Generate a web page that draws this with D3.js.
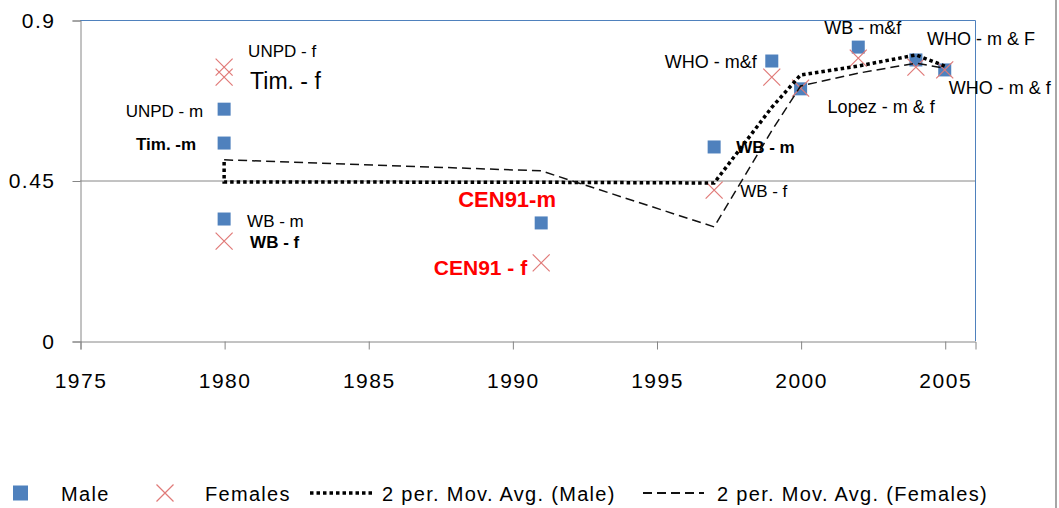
<!DOCTYPE html>
<html>
<head>
<meta charset="utf-8">
<script src="https://cdn.jsdelivr.net/npm/d3@7"></script>
<style>
  body { margin: 0; background: #fff; }
  svg { display: block; font-family: "Liberation Sans", Arial, sans-serif; }
</style>
</head>
<body>
<svg id="chart" width="1059" height="508"></svg>
<script>
// data
const maleYears = [1980, 1980, 1980, 1991, 1997, 1999, 2000, 2002, 2004, 2005];
const maleValues = [0.650, 0.555, 0.342, 0.331, 0.544, 0.785, 0.707, 0.824, 0.788, 0.760];
const femaleYears = [1980, 1980, 1980, 1991, 1997, 1999, 2000, 2002, 2004, 2005];
const femaleValues = [0.768, 0.740, 0.280, 0.219, 0.423, 0.740, 0.709, 0.793, 0.768, 0.760];

// 2 per. moving average trend lines, as drawn
const maleAvgYears = [1980, 1980, 1991, 1997, 1999, 2000, 2002, 2004, 2005];
const maleAvgValues = [0.502, 0.446, 0.445, 0.443, 0.655, 0.746, 0.771, 0.802, 0.771];
const femaleAvgYears = [1980, 1991, 1997, 1999, 2000, 2002, 2004, 2005];
const femaleAvgValues = [0.508, 0.477, 0.320, 0.590, 0.715, 0.751, 0.779, 0.765];

const xTicks = [1975, 1980, 1985, 1990, 1995, 2000, 2005];
const yTicks = [0, 0.45, 0.9];
const yTickLabels = ["0", "0.45", "0.9"];

// point labels: text, series, point index
const labelTexts = ["UNPD - f", "Tim. - f", "UNPD - m", "Tim. -m", "WB - m", "WB - f",
  "CEN91-m", "CEN91 - f", "WB - m", "WB - f", "WHO - m&f", "WB - m&f",
  "WHO - m & F", "WHO - m & f", "Lopez - m & f"];
const labelSeries = ["f", "f", "m", "m", "m", "f", "m", "f", "m", "f", "m", "m", "m", "m", "m"];
const labelIndex = [0, 1, 0, 1, 2, 2, 3, 3, 4, 4, 5, 7, 8, 9, 6];

const legendNames = ["Male", "Females", "2 per. Mov. Avg. (Male)", "2 per. Mov. Avg. (Females)"];

// label layout (offsets from the point, px)
const labelStyle = [
  { dx: 24, dy: -10, anchor: "start", size: 17 },
  { dx: 26, dy: 12, anchor: "start", size: 23 },
  { dx: -21, dy: 8, anchor: "end", size: 17 },
  { dx: -28, dy: 7, anchor: "end", size: 17, bold: true },
  { dx: 23, dy: 8, anchor: "start", size: 17 },
  { dx: 26, dy: 7, anchor: "start", size: 17, bold: true },
  { dx: -83, dy: -16, anchor: "start", size: 22, bold: true, color: "#ff0000" },
  { dx: -14, dy: 12, anchor: "end", size: 21, bold: true, color: "#ff0000" },
  { dx: 22, dy: 6, anchor: "start", size: 17, bold: true },
  { dx: 26, dy: 7, anchor: "start", size: 17 },
  { dx: -15, dy: 7, anchor: "end", size: 18 },
  { dx: -34, dy: -13, anchor: "start", size: 18 },
  { dx: 11, dy: -15, anchor: "start", size: 18 },
  { dx: 4, dy: 24, anchor: "start", size: 18 },
  { dx: 27, dy: 24, anchor: "start", size: 18 }
];

const blue = "#4f81bd";
const red = "#e07a78";
const axisGray = "#868686";

const svg = d3.select("#chart");
const plotLeft = 80, plotRight = 975, plotTop = 20, plotBottom = 341;

const x = d3.scaleLinear().domain([1975, 2006.05]).range([plotLeft, plotRight]);
const y = d3.scaleLinear().domain([0, 0.9]).range([plotBottom, plotTop]);

// outer chart border on the right
svg.append("line")
  .attr("x1", 1056).attr("x2", 1056).attr("y1", 0).attr("y2", 508)
  .attr("stroke", "#a6a6a6").attr("stroke-width", 2);

// gridline
svg.append("line")
  .attr("x1", plotLeft).attr("x2", plotRight)
  .attr("y1", y(0.45) + 0.5).attr("y2", y(0.45) + 0.5)
  .attr("stroke", axisGray).attr("stroke-width", 1);

// plot area border (top, right)
svg.append("path")
  .attr("d", `M${plotLeft},${plotTop + 0.5}H${plotRight + 0.5}V${plotBottom}`)
  .attr("fill", "none").attr("stroke", blue).attr("stroke-width", 1);

// axes
const yAxis = svg.append("g")
  .attr("transform", `translate(${plotLeft + 0.5},0.5)`)
  .call(d3.axisLeft(y).tickValues(yTicks).tickSize(8).tickPadding(17)
    .tickFormat((d, i) => yTickLabels[i]));
const xAxis = svg.append("g")
  .attr("transform", `translate(0.5,${plotBottom + 0.5})`)
  .call(d3.axisBottom(x).tickValues(xTicks).tickSize(8).tickPadding(24)
    .tickFormat(d3.format("d")));

[yAxis, xAxis].forEach(g => {
  g.select(".domain").attr("stroke", axisGray);
  g.selectAll(".tick line").attr("stroke", axisGray);
  g.selectAll(".tick text")
    .attr("fill", "#000")
    .style("font-size", "21px")
    .style("letter-spacing", "1.5px")
    .style("font-family", "'Liberation Sans', Arial, sans-serif");
});

const male = maleYears.map((d, i) => ({ year: d, value: maleValues[i] }));
const female = femaleYears.map((d, i) => ({ year: d, value: femaleValues[i] }));

// male squares
svg.append("g").selectAll("rect")
  .data(male)
  .enter()
  .append("rect")
  .attr("x", d => x(d.year) - 6.5)
  .attr("y", d => y(d.value) - 6.5)
  .attr("width", 13)
  .attr("height", 13)
  .attr("fill", blue);

// female crosses
const cross = s => `M${-s},${-s}L${s},${s}M${-s},${s}L${s},${-s}`;
svg.append("g").selectAll("path")
  .data(female)
  .enter()
  .append("path")
  .attr("transform", d => `translate(${x(d.year)},${y(d.value)})`)
  .attr("d", cross(8.5))
  .attr("fill", "none")
  .attr("stroke", red)
  .attr("stroke-width", 1.2);

// moving averages
const line = d3.line().x(d => x(d[0])).y(d => y(d[1]));
svg.append("path")
  .datum(maleAvgYears.map((d, i) => [d, maleAvgValues[i]]))
  .attr("d", line)
  .attr("fill", "none")
  .attr("stroke", "#000")
  .attr("stroke-width", 3.5)
  .attr("stroke-dasharray", "3.5,3");
svg.append("path")
  .datum(femaleAvgYears.map((d, i) => [d, femaleAvgValues[i]]))
  .attr("d", line)
  .attr("fill", "none")
  .attr("stroke", "#111")
  .attr("stroke-width", 1.5)
  .attr("stroke-dasharray", "9,5");

// labels
svg.append("g").selectAll("text")
  .data(labelTexts)
  .enter()
  .append("text")
  .attr("x", (d, i) => {
    const p = labelSeries[i] === "m" ? male[labelIndex[i]] : female[labelIndex[i]];
    return x(p.year) + labelStyle[i].dx;
  })
  .attr("y", (d, i) => {
    const p = labelSeries[i] === "m" ? male[labelIndex[i]] : female[labelIndex[i]];
    return y(p.value) + labelStyle[i].dy;
  })
  .attr("text-anchor", (d, i) => labelStyle[i].anchor)
  .style("font-size", (d, i) => labelStyle[i].size + "px")
  .style("font-weight", (d, i) => labelStyle[i].bold ? "bold" : "normal")
  .attr("fill", (d, i) => labelStyle[i].color || "#000")
  .text(d => d);

// legend
const lg = svg.append("g").style("font-size", "20px").style("letter-spacing", "1.3px");
const ly = 493;
lg.append("rect").attr("x", 13).attr("y", ly - 7.5).attr("width", 15).attr("height", 15).attr("fill", blue);
lg.append("text").attr("x", 61).attr("y", ly + 8).text(legendNames[0]);
lg.append("path").attr("transform", `translate(165,${ly})`).attr("d", cross(8.5))
  .attr("fill", "none").attr("stroke", red).attr("stroke-width", 1.2);
lg.append("text").attr("x", 205).attr("y", ly + 8).text(legendNames[1]);
lg.append("line").attr("x1", 310).attr("x2", 372).attr("y1", ly).attr("y2", ly)
  .attr("stroke", "#000").attr("stroke-width", 3.5).attr("stroke-dasharray", "3.5,3");
lg.append("text").attr("x", 382).attr("y", ly + 8).text(legendNames[2]);
lg.append("line").attr("x1", 643).attr("x2", 704).attr("y1", ly).attr("y2", ly)
  .attr("stroke", "#111").attr("stroke-width", 1.8).attr("stroke-dasharray", "9,5");
lg.append("text").attr("x", 717).attr("y", ly + 8).text(legendNames[3]);
</script>
</body>
</html>
